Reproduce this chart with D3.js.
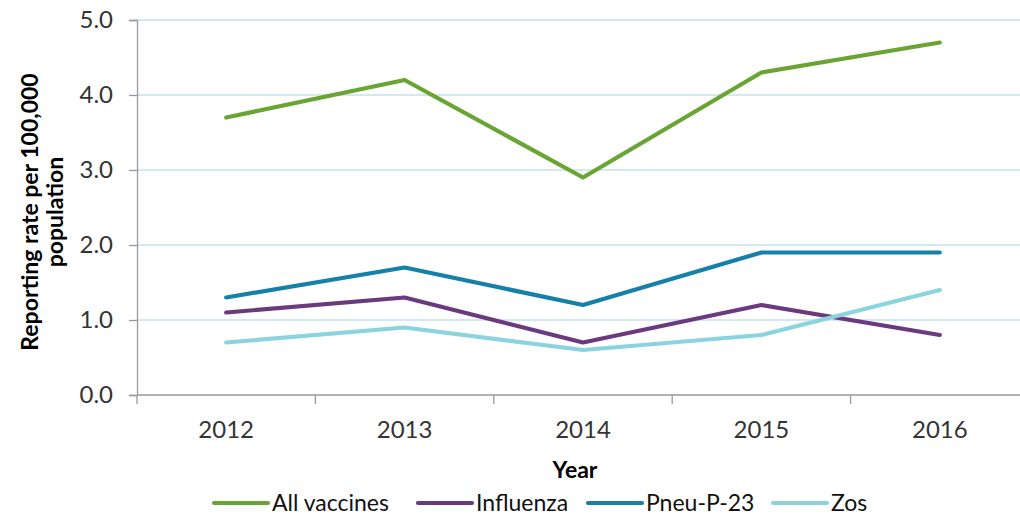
<!DOCTYPE html>
<html><head><meta charset="utf-8">
<script src="https://cdn.jsdelivr.net/npm/d3@7"></script>
<style>body{margin:0;background:#fff;} text{font-family:Lato, "Open Sans", sans-serif;}</style>
</head><body>
<svg id="c" width="1020" height="515"></svg>
<script>
const years = ["2012","2013","2014","2015","2016"];
const allVaccines = [3.7, 4.2, 2.9, 4.3, 4.7];
const influenza = [1.1, 1.3, 0.7, 1.2, 0.8];
const pneuP23 = [1.3, 1.7, 1.2, 1.9, 1.9];
const zos = [0.7, 0.9, 0.6, 0.8, 1.4];
const yTicks = [0, 1, 2, 3, 4, 5];
const seriesNames = ["All vaccines", "Influenza", "Pneu-P-23", "Zos"];
const seriesColors = ["#6aa533", "#6b3a7e", "#1581a9", "#8bd3df"];
const seriesData = [allVaccines, influenza, pneuP23, zos];

const svg = d3.select("#c");
const x = d3.scaleBand().domain(years).range([137, 1029]);
const y = d3.scaleLinear().domain([0, 5]).range([395, 20]);

// gridlines
svg.append("g").selectAll("line").data(yTicks.filter(d => d > 0)).join("line")
  .attr("x1", 137).attr("x2", 1020).attr("y1", d => y(d)).attr("y2", d => y(d))
  .attr("stroke", "#c6e0ec").attr("stroke-width", 1.3);

// y axis
const ya = svg.append("g").attr("transform", "translate(137,0)")
  .call(d3.axisLeft(y).tickValues(yTicks).tickFormat(d3.format(".1f")).tickSize(8).tickPadding(16));
ya.select(".domain").attr("stroke", "#9a9a9a").attr("stroke-width", 1.3);
ya.selectAll(".tick line").attr("stroke", "#9a9a9a").attr("stroke-width", 1.3);
ya.selectAll("text").attr("font-size", 24).attr("fill", "#333").style("font-family", "Lato, sans-serif");

// x axis
const xa = svg.append("g").attr("transform", "translate(0,395)")
  .call(d3.axisBottom(x).tickSize(0).tickPadding(26));
xa.select(".domain").remove();
svg.append("line").attr("x1", 137).attr("x2", 1020).attr("y1", 395).attr("y2", 395)
  .attr("stroke", "#9a9a9a").attr("stroke-width", 1.3);
svg.append("g").selectAll("line").data(years).join("line")
  .attr("x1", d => x(d)).attr("x2", d => x(d)).attr("y1", 395).attr("y2", 404)
  .attr("stroke", "#9a9a9a").attr("stroke-width", 1.3);
xa.selectAll("text").attr("font-size", 24).attr("fill", "#333").style("font-family", "Lato, sans-serif");

// lines
const line = d3.line().x((d, i) => x(years[i]) + x.bandwidth() / 2).y(d => y(d));
svg.append("g").selectAll("path").data(seriesData).join("path")
  .attr("d", d => line(d)).attr("fill", "none")
  .attr("stroke", (d, i) => seriesColors[i]).attr("stroke-width", 4.2)
  .attr("stroke-linecap", "round").attr("stroke-linejoin", "round");

// axis titles
const yt = svg.append("text").attr("transform", "translate(0,212) rotate(-90)")
  .attr("text-anchor", "middle").attr("font-size", 23).attr("font-weight", "bold").attr("fill", "#000");
yt.append("tspan").attr("x", 0).attr("y", 38).text("Reporting rate per 100,000");
yt.append("tspan").attr("x", 0).attr("y", 63).text("population");

svg.append("text").attr("x", 575).attr("y", 478).attr("text-anchor", "middle")
  .attr("font-size", 23).attr("font-weight", "bold").attr("fill", "#000").text("Year");

// legend
const legX = [214, 418, 588, 773];
const lg = svg.append("g").selectAll("g").data(seriesNames).join("g")
  .attr("transform", (d, i) => `translate(${legX[i]},503)`);
lg.append("line").attr("x1", 0).attr("x2", 54).attr("y1", 0).attr("y2", 0)
  .attr("stroke", (d, i) => seriesColors[i]).attr("stroke-width", 4.2).attr("stroke-linecap", "round");
lg.append("text").attr("x", 58).attr("y", 8).attr("font-size", 23).attr("fill", "#111").text(d => d);
</script>
</body></html>
